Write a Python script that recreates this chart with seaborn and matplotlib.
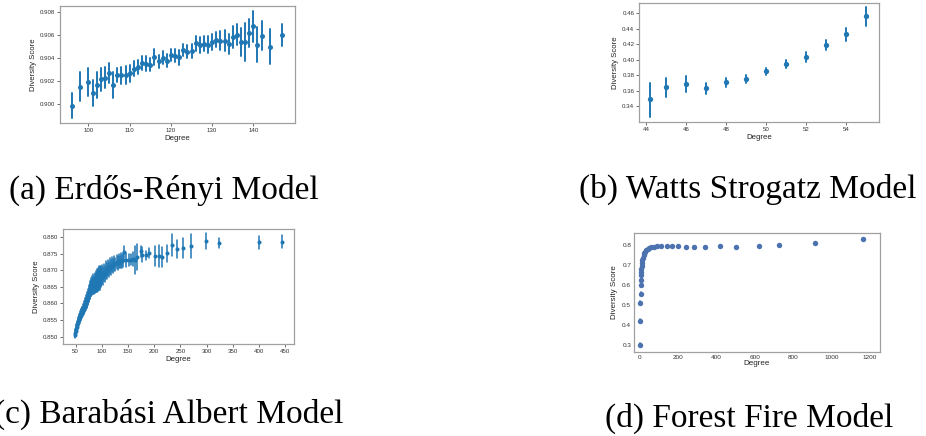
import numpy as np
import pandas as pd
import matplotlib
matplotlib.use("Agg")
import matplotlib.pyplot as plt
import seaborn as sns

# ---------------- data ----------------
# (a) Erdos-Renyi
deg_a = [96, 98, 100, 101, 102, 103, 104, 105, 106, 107, 108, 109, 110, 111, 112, 113, 114, 115,
         116, 117, 118, 119, 120, 121, 122, 123, 124, 125, 126, 127, 128, 129, 130, 131, 132, 133,
         134, 135, 136, 137, 138, 139, 140, 141, 142, 144, 147]
score_a = [0.89985, 0.90151, 0.90189, 0.90096, 0.90166, 0.90215, 0.90230, 0.90271, 0.90169, 0.90253,
           0.90250, 0.90253, 0.90268, 0.90308, 0.90323, 0.90355, 0.90352, 0.90343, 0.90410, 0.90370,
           0.90402, 0.90378, 0.90425, 0.90419, 0.90407, 0.90469, 0.90454, 0.90463, 0.90527, 0.90509,
           0.90524, 0.90515, 0.90538, 0.90559, 0.90550, 0.90550, 0.90521, 0.90579, 0.90602, 0.90541,
           0.90535, 0.90617, 0.90672, 0.90515, 0.90594, 0.90495, 0.90599]
err_a = [0.00108, 0.00125, 0.00122, 0.00111, 0.00116, 0.00099, 0.00093, 0.00087, 0.00111, 0.00064,
         0.00073, 0.00076, 0.00073, 0.00064, 0.00061, 0.00058, 0.00067, 0.00058, 0.00070, 0.00058,
         0.00058, 0.00058, 0.00052, 0.00055, 0.00064, 0.00055, 0.00058, 0.00061, 0.00064, 0.00070,
         0.00067, 0.00076, 0.00070, 0.00067, 0.00081, 0.00090, 0.00087, 0.00093, 0.00093, 0.00122,
         0.00163, 0.00119, 0.00134, 0.00151, 0.00125, 0.00151, 0.00093]

# (b) Watts Strogatz
deg_b = [44.2, 45, 46, 47, 48, 49, 50, 51, 52, 53, 54, 55]
score_b = [0.3498, 0.3648, 0.3690, 0.3635, 0.3712, 0.3754, 0.3848, 0.3947, 0.4036, 0.4194, 0.4331, 0.4557]
low_b = [0.3268, 0.3524, 0.3588, 0.3562, 0.3652, 0.3695, 0.3801, 0.3891, 0.3976, 0.4130, 0.4245, 0.4438]
high_b = [0.3695, 0.3763, 0.3793, 0.3703, 0.3763, 0.3806, 0.3895, 0.3994, 0.4096, 0.4254, 0.4408, 0.4677]

# (c) Barabasi Albert
deg_c = [48, 49, 50, 51, 52, 53, 54, 55, 56, 57, 58, 59, 60, 61, 62, 63, 64, 65, 66, 67, 68, 69,
         70, 71, 72, 73, 74, 75, 76, 77, 78, 79, 80, 81, 82, 83, 84, 85, 86, 87, 88, 89, 90, 91,
         92, 93, 94, 95, 96, 97, 98, 99, 100, 102, 104, 106, 108, 110, 112, 114, 116, 118, 120,
         122, 124, 126, 128, 130, 132, 134, 136, 138, 140, 143, 147, 151, 155, 159, 163, 168, 174,
         177, 185, 190, 201, 210, 215, 224, 234, 243, 255, 270, 298, 324, 400, 445]
score_c = [0.8505, 0.8512, 0.8518, 0.8524, 0.8530, 0.8534, 0.8541, 0.8545, 0.8549, 0.8553, 0.8558,
           0.8561, 0.8566, 0.8568, 0.8572, 0.8575, 0.8580, 0.8583, 0.8588, 0.8590, 0.8596, 0.8598,
           0.8603, 0.8606, 0.8612, 0.8615, 0.8621, 0.8626, 0.8632, 0.8636, 0.8641, 0.8645, 0.8650,
           0.8648, 0.8655, 0.8652, 0.8659, 0.8655, 0.8662, 0.8658, 0.8666, 0.8661, 0.8669, 0.8664,
           0.8672, 0.8667, 0.8676, 0.8670, 0.8679, 0.8673, 0.8683, 0.8677, 0.8688, 0.8682, 0.8694,
           0.8689, 0.8701, 0.8697, 0.8707, 0.8703, 0.8712, 0.8709, 0.8717, 0.8714, 0.8721, 0.8718,
           0.8724, 0.8722, 0.8727, 0.8725, 0.8729, 0.8727, 0.8731, 0.8755, 0.8731, 0.8731, 0.8732,
           0.8734, 0.8731, 0.8740, 0.8757, 0.8747, 0.8745, 0.8752, 0.8744, 0.8743, 0.8741, 0.8751,
           0.8776, 0.8764, 0.8768, 0.8774, 0.8787, 0.8782, 0.8784, 0.8786]
err_c = [0.0010, 0.0012, 0.0011, 0.0013, 0.0012, 0.0014, 0.0013, 0.0015, 0.0013, 0.0016, 0.0014,
         0.0015, 0.0016, 0.0014, 0.0017, 0.0015, 0.0018, 0.0016, 0.0019, 0.0017, 0.0020, 0.0018,
         0.0021, 0.0019, 0.0022, 0.0020, 0.0023, 0.0021, 0.0024, 0.0022, 0.0026, 0.0023, 0.0027,
         0.0024, 0.0028, 0.0025, 0.0030, 0.0026, 0.0031, 0.0027, 0.0033, 0.0028, 0.0034, 0.0029,
         0.0035, 0.0030, 0.0036, 0.0031, 0.0034, 0.0032, 0.0030, 0.0029, 0.0028, 0.0027, 0.0026,
         0.0025, 0.0026, 0.0024, 0.0025, 0.0023, 0.0024, 0.0022, 0.0023, 0.0021, 0.0022, 0.0020,
         0.0021, 0.0020, 0.0021, 0.0019, 0.0022, 0.0020, 0.0021, 0.0017, 0.0020, 0.0018, 0.0016,
         0.0021, 0.0043, 0.0038, 0.0016, 0.0022, 0.0014, 0.0014, 0.0030, 0.0033, 0.0030, 0.0026,
         0.0033, 0.0026, 0.0030, 0.0036, 0.0024, 0.0014, 0.0019, 0.0020]

# (d) Forest Fire
deg_d = [1, 2, 3, 4, 5, 6, 7, 8, 9, 10, 12, 14, 17, 20, 24, 29, 35, 42, 50, 60, 73, 92, 110,
         143, 170, 198, 240, 285, 341, 416, 503, 624, 727, 911, 1162]
score_d = [0.300, 0.418, 0.510, 0.555, 0.596, 0.622, 0.648, 0.665, 0.680, 0.695, 0.708, 0.722,
           0.735, 0.746, 0.756, 0.765, 0.772, 0.778, 0.783, 0.787, 0.790, 0.791, 0.792, 0.792,
           0.793, 0.791, 0.790, 0.790, 0.790, 0.792, 0.790, 0.794, 0.797, 0.806, 0.826]
err_d = [0.009, 0.008, 0.007, 0.007, 0.006, 0.005, 0.005, 0.004, 0.004, 0.004, 0.003, 0.003,
         0.003, 0.002, 0.002, 0.002, 0.002, 0.002, 0.001, 0.001, 0.001, 0.001, 0.001, 0.001,
         0.001, 0.001, 0.001, 0.001, 0.001, 0.001, 0.001, 0.001, 0.001, 0.001, 0.001]

captions = ["(a) Erdős-Rényi Model", "(b) Watts Strogatz Model",
            "(c) Barabási Albert Model", "(d) Forest Fire Model"]


def long_frame(x, lo, mid, hi):
    rows = []
    for xi, a, m, b in zip(x, lo, mid, hi):
        rows += [(xi, a), (xi, m), (xi, b)]
    return pd.DataFrame(rows, columns=["Degree", "Diversity Score"])


df_a = long_frame(deg_a, [s - e for s, e in zip(score_a, err_a)], score_a,
                  [s + e for s, e in zip(score_a, err_a)])
df_b = long_frame(deg_b, low_b, score_b, high_b)
df_c = long_frame(deg_c, [s - e for s, e in zip(score_c, err_c)], score_c,
                  [s + e for s, e in zip(score_c, err_c)])
df_d = long_frame(deg_d, [s - e for s, e in zip(score_d, err_d)], score_d,
                  [s + e for s, e in zip(score_d, err_d)])

# ---------------- style ----------------
sns.set_style("white")
plt.rcParams["font.family"] = ["Liberation Sans", "DejaVu Sans"]
plt.rcParams["axes.edgecolor"] = "#a0a0a0"
plt.rcParams["axes.linewidth"] = 0.9

W, H = 926, 436
fig = plt.figure(figsize=(W / 100, H / 100), dpi=100)
fig.patch.set_facecolor("white")


def add_ax(l, r, t, b):
    return fig.add_axes([l / W, 1 - b / H, (r - l) / W, (b - t) / H])


ax_a = add_ax(60, 295, 6, 123)
ax_b = add_ax(639, 879, 3, 122)
ax_c = add_ax(63, 294, 229, 344)
ax_d = add_ax(634, 880, 233, 352)

blue = "#1f77b4"
deep = "#4c72b0"

common = dict(x="Degree", y="Diversity Score", native_scale=True, orient="x",
              estimator="median", errorbar=("pi", 100), linestyle="none", marker="o",
              markeredgewidth=0)

sns.pointplot(data=df_a, ax=ax_a, color=blue, markersize=3.6, err_kws={"linewidth": 1.4}, **common)
sns.pointplot(data=df_b, ax=ax_b, color=blue, markersize=3.8, err_kws={"linewidth": 1.4}, **common)
sns.pointplot(data=df_c, ax=ax_c, color=blue, markersize=2.9, err_kws={"linewidth": 1.1}, **common)
sns.pointplot(data=df_d, ax=ax_d, color=deep, markersize=3.9, err_kws={"linewidth": 1.2}, **common)

ax_a.set_xlim(93.1, 150.1)
ax_a.set_ylim(0.89838, 0.90849)
ax_a.set_xticks([100, 110, 120, 130, 140])
ax_a.set_yticks([0.900, 0.902, 0.904, 0.906, 0.908])
ax_a.set_yticklabels(["0.900", "0.902", "0.904", "0.906", "0.908"])

ax_b.set_xlim(43.63, 55.63)
ax_b.set_ylim(0.3199, 0.4728)
ax_b.set_xticks([44, 46, 48, 50, 52, 54])
ax_b.set_yticks([0.34, 0.36, 0.38, 0.40, 0.42, 0.44, 0.46])
ax_b.set_yticklabels(["0.34", "0.36", "0.38", "0.40", "0.42", "0.44", "0.46"])

ax_c.set_xlim(25.8, 467)
ax_c.set_ylim(0.8478, 0.8824)
ax_c.set_xticks([50, 100, 150, 200, 250, 300, 350, 400, 450])
ax_c.set_yticks([0.850, 0.855, 0.860, 0.865, 0.870, 0.875, 0.880])
ax_c.set_yticklabels(["0.850", "0.855", "0.860", "0.865", "0.870", "0.875", "0.880"])

ax_d.set_xlim(-30, 1252)
ax_d.set_ylim(0.263, 0.858)
ax_d.set_xticks([0, 200, 400, 600, 800, 1000, 1200])
ax_d.set_yticks([0.3, 0.4, 0.5, 0.6, 0.7, 0.8])
ax_d.set_yticklabels(["0.3", "0.4", "0.5", "0.6", "0.7", "0.8"])

for ax in (ax_a, ax_b, ax_c):
    ax.tick_params(axis="both", which="major", length=2.2, width=0.6, color="#555555",
                   labelsize=4.4, pad=1.2, labelcolor="#333333", bottom=True, left=True)
    ax.set_xlabel("Degree", fontsize=5.6, labelpad=1.5, color="#222222")
    ax.set_ylabel("Diversity Score", fontsize=5.6, labelpad=2.0, color="#222222")

ax_d.tick_params(axis="both", which="major", length=0, labelsize=4.6, pad=2.0, labelcolor="#333333")
ax_d.set_xlabel("Degree", fontsize=5.8, labelpad=0.5, color="#222222")
ax_d.set_ylabel("Diversity Score", fontsize=5.8, labelpad=3.0, color="#222222")

for ax in (ax_a, ax_b, ax_c, ax_d):
    for sp in ax.spines.values():
        sp.set_visible(True)
        sp.set_color("#a0a0a0")

# ---------------- captions ----------------
cap_font = ["Liberation Serif", "DejaVu Serif"]
cap_size = 24
fig.text(164 / W, 1 - 199 / H, captions[0], ha="center", va="baseline",
         fontsize=cap_size, family=cap_font, color="black")
fig.text(748 / W, 1 - 198 / H, captions[1], ha="center", va="baseline",
         fontsize=cap_size, family=cap_font, color="black")
fig.text(343 / W, 1 - 423 / H, captions[2], ha="right", va="baseline",
         fontsize=cap_size, family=cap_font, color="black")
fig.text(893 / W, 1 - 427 / H, captions[3], ha="right", va="baseline",
         fontsize=cap_size, family=cap_font, color="black")

fig.savefig("out.png", dpi=100, facecolor="white")
